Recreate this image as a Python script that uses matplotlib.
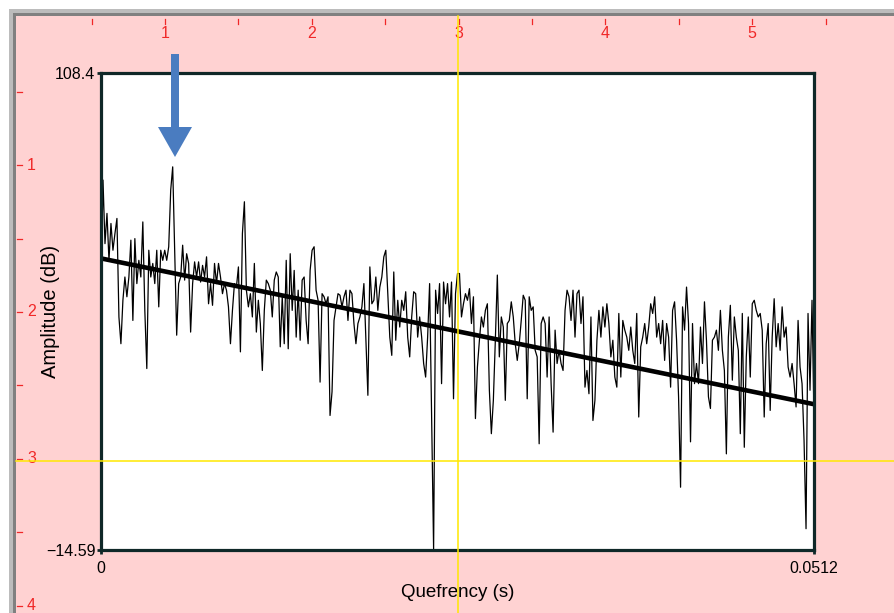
import numpy as np
import matplotlib
matplotlib.use("Agg")
import matplotlib.pyplot as plt
from matplotlib.patches import Rectangle, FancyArrow

plt.rcParams['font.family'] = ['Liberation Sans', 'DejaVu Sans']

# ---------------- data (amplitude in dB, evenly spaced in quefrency) ----------------
amp_seg1 = [54.1, 80.8, 64.4, 72.2, 60.1, 69.6, 62.7, 67.0, 70.9, 45.5,
            38.6, 49.8, 55.8, 50.7, 55.8, 65.3, 44.6, 65.7, 54.1, 60.1,
            55.8, 70.0, 47.2, 32.2, 62.7, 55.8, 59.3, 54.1, 62.7, 48.1,
            62.7, 60.1, 62.7, 60.1, 63.6, 78.2, 84.2, 62.7, 40.8, 54.1,
            55.8, 64.0, 55.0, 61.8, 59.3, 41.6, 54.1, 59.7, 55.8, 59.7,
            54.5, 58.8, 55.8, 61.0, 48.9, 54.1, 48.5, 59.3, 54.1, 59.3]
amp_seg2 = [55.8, 51.5, 54.1, 52.4, 48.1, 38.6, 47.2, 54.1, 53.2, 58.4,
            36.5, 67.0, 75.2, 52.4, 48.1, 51.5, 45.5, 59.3, 41.6, 49.8,
            43.8, 31.7, 47.2, 55.0, 54.1, 52.4, 45.5, 55.0, 57.1, 55.8,
            37.8, 50.7, 38.6, 60.1, 37.3, 61.8, 47.2, 57.5, 40.3, 52.4,
            39.5, 55.0, 55.8, 44.6, 38.6, 57.5, 62.7, 63.6, 52.4, 49.8,
            28.7, 51.5, 50.7, 48.9, 50.7, 20.1, 26.2, 44.6, 48.1, 51.5]
amp_seg3 = [51.1, 48.1, 50.7, 52.4, 44.6, 52.4, 51.5, 43.8, 38.6, 43.8,
            45.5, 48.1, 54.1, 39.5, 25.3, 58.4, 48.9, 49.8, 55.8, 47.2,
            53.2, 55.8, 61.0, 62.7, 51.5, 40.3, 35.6, 57.1, 39.5, 49.8,
            42.9, 49.8, 47.2, 52.0, 40.3, 35.2, 45.5, 52.0, 51.5, 40.3,
            45.5, 40.3, 33.5, 30.0, 40.3, 54.1, 19.7, -14.3, 52.4, 46.4,
            54.1, 28.3, 54.5, 48.9, 54.1, 45.5, 54.5, 24.4, 51.5, 56.7]
amp_seg4 = [56.7, 45.5, 48.9, 51.5, 49.8, 52.8, 43.8, 50.7, 19.3, 32.6,
            39.5, 45.5, 42.9, 47.2, 48.9, 26.6, 15.4, 24.0, 39.5, 56.3,
            35.2, 45.5, 42.9, 24.0, 43.8, 44.6, 49.4, 45.5, 38.6, 34.3,
            38.6, 44.6, 51.1, 49.8, 24.4, 50.7, 47.2, 48.1, 36.9, 35.2,
            12.8, 43.8, 45.5, 43.8, 30.0, 45.5, 28.3, 15.8, 42.1, 33.5,
            36.9, 33.5, 31.7, 47.2, 52.4, 50.7, 44.6, 52.4, 40.3, 51.5]
amp_seg5 = [52.4, 43.8, 50.7, 27.4, 31.7, 25.7, 45.5, 18.8, 24.0, 39.5,
            47.2, 40.3, 48.1, 42.9, 48.9, 43.8, 35.2, 39.5, 30.0, 27.4,
            46.4, 30.0, 44.6, 42.1, 40.3, 36.9, 42.9, 36.9, 33.5, 46.4,
            19.7, 37.8, 40.3, 43.8, 38.6, 42.9, 48.9, 46.4, 50.7, 40.3,
            43.8, 38.6, 44.6, 34.3, 43.8, 40.3, 27.4, 47.2, 49.4, 39.5,
            24.9, 1.6, 48.1, 42.1, 53.2, 43.8, 13.3, 43.8, 28.3, 33.5]
amp_seg6 = [28.3, 42.9, 33.5, 49.4, 39.5, 24.9, 21.9, 39.5, 40.3, 42.1,
            36.9, 47.2, 36.9, 31.7, 10.2, 40.3, 48.5, 29.2, 45.5, 40.3,
            36.9, 15.4, 46.4, 11.9, 35.2, 45.5, 30.0, 48.9, 49.8, 47.2,
            45.5, 46.4, 42.1, 19.7, 38.6, 43.8, 21.4, 40.3, 50.2, 37.8,
            43.8, 36.9, 48.1, 40.3, 42.9, 32.6, 30.0, 33.5, 28.3, 22.3,
            44.6, 32.6, 28.3, 13.7, -9.1, 46.4, 26.6, 49.8, 19.7]

trend_quefrency = [0.0, 0.0512]
trend_db = [60.6, 23.0]

x_limits = (0.0, 0.0512)
y_limits = (-14.59, 108.4)
x_tick_labels = ['0', '0.0512']
y_tick_labels = ['\u221214.59', '108.4']
ruler_labels = ['1', '2', '3', '4', '5']
left_ruler_labels = ['1', '2', '3', '4']

amplitude = np.concatenate([amp_seg1, amp_seg2, amp_seg3, amp_seg4, amp_seg5, amp_seg6])
quefrency = np.linspace(x_limits[0], x_limits[1], len(amplitude))

# ---------------- figure ----------------
W, H = 895, 613
fig = plt.figure(figsize=(W / 100, H / 100), dpi=100)
fig.patch.set_facecolor('white')

# background / ruler overlay in pixel coordinates
bg = fig.add_axes([0, 0, 1, 1], zorder=0)
bg.set_xlim(0, W)
bg.set_ylim(H, 0)
bg.axis('off')
bg.add_patch(Rectangle((9, 9), W, H, color='#bcbcbc', lw=0))
bg.add_patch(Rectangle((13, 13), W, H, color='#808080', lw=0))
bg.add_patch(Rectangle((16, 16), W, H, color='#ffd2d2', lw=0))

red = '#f02828'
origin = 18.3
step = 146.8
for i in range(1, 12):
    x = origin + i * step / 2
    bg.plot([x, x], [19, 24], color=red, lw=0.9)
    if i % 2 == 0 and i // 2 <= len(ruler_labels):
        bg.text(x, 33.5, ruler_labels[i // 2 - 1], color=red, fontsize=11.5,
                ha='center', va='center')
for i in range(1, 9):
    y = origin + i * step / 2
    bg.plot([17, 22], [y, y], color=red, lw=0.9)
    if i % 2 == 0:
        bg.text(27, y, left_ruler_labels[i // 2 - 1], color=red, fontsize=11.5,
                ha='left', va='center')

# data axes
frame = '#0f2828'
ax = fig.add_axes([101 / W, 1 - 550 / H, 713 / W, 477 / H], zorder=2)
ax.set_facecolor('white')
ax.plot(quefrency, amplitude, color='black', lw=0.9)
ax.plot(trend_quefrency, trend_db, color='black', lw=3.3, solid_capstyle='butt')
ax.set_xlim(*x_limits)
ax.set_ylim(*y_limits)
ax.set_xticks(list(x_limits), x_tick_labels)
ax.set_yticks(list(y_limits), y_tick_labels)
ax.tick_params(direction='out', length=3, width=2, color=frame,
               labelsize=11.5, labelcolor='black')
ax.tick_params(axis='x', pad=5.0)
ax.tick_params(axis='y', pad=1.0)
for s in ax.spines.values():
    s.set_linewidth(2.3)
    s.set_color(frame)
ax.set_xlabel('Quefrency (s)', fontsize=13.5)
ax.set_ylabel('Amplitude (dB)', fontsize=14.5)
ax.xaxis.set_label_coords(0.5, -0.071)
ax.yaxis.set_label_coords(-0.058, 0.5)

# top overlay: guides and arrow
top = fig.add_axes([0, 0, 1, 1], zorder=3)
top.set_xlim(0, W)
top.set_ylim(H, 0)
top.axis('off')
top.patch.set_alpha(0)
top.plot([458, 458], [16, H], color='#ffe800', lw=1.1)
top.plot([16, W], [461, 461], color='#ffe800', lw=1.1)
top.add_patch(FancyArrow(175, 54, 0, 103, width=8, head_width=34, head_length=30,
                         length_includes_head=True, color='#4a7cc0', lw=0))

fig.savefig('out.png', dpi=100)
